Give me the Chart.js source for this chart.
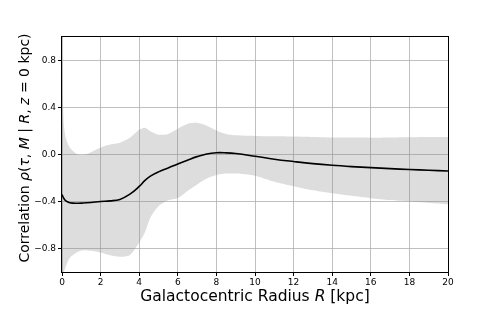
<!DOCTYPE html>
<html>
<head>
<meta charset="utf-8">
<script src="https://cdn.jsdelivr.net/npm/chart.js@4"></script>
<style>
  body { margin: 0; background: #fff; }
  canvas { display: block; }
</style>
</head>
<body>
<canvas id="chart" width="498" height="312"></canvas>
<script>
// Galactocentric radius in kpc
const radius = [0, 0.05, 0.1, 0.2, 0.4, 0.8, 1.1, 1.5, 2, 2.5, 3, 3.5, 4, 4.3, 4.6, 5, 5.5, 6, 6.5, 7, 7.5, 8, 8.5, 9, 10, 11, 12, 13, 14, 15, 16, 17, 18, 19, 20];
const meanCorr = [-0.34, -0.36, -0.375, -0.395, -0.41, -0.415, -0.413, -0.408, -0.40, -0.395, -0.382, -0.34, -0.272, -0.22, -0.182, -0.148, -0.115, -0.08, -0.048, -0.018, 0.005, 0.015, 0.014, 0.008, -0.015, -0.04, -0.06, -0.078, -0.092, -0.103, -0.112, -0.12, -0.128, -0.134, -0.14];
const upperCorr = [0.8, 0.42, 0.25, 0.14, 0.06, 0.0, -0.005, 0.02, 0.06, 0.085, 0.1, 0.14, 0.21, 0.228, 0.195, 0.168, 0.175, 0.22, 0.262, 0.27, 0.245, 0.205, 0.175, 0.163, 0.158, 0.155, 0.153, 0.149, 0.145, 0.144, 0.143, 0.145, 0.147, 0.149, 0.15];
const lowerCorr = [-1.1, -1.05, -1.0, -0.95, -0.88, -0.83, -0.815, -0.82, -0.834, -0.858, -0.87, -0.857, -0.75, -0.66, -0.53, -0.44, -0.39, -0.37, -0.31, -0.255, -0.205, -0.175, -0.162, -0.162, -0.18, -0.232, -0.27, -0.305, -0.33, -0.352, -0.372, -0.388, -0.40, -0.412, -0.423];
const xTicks = [0, 2, 4, 6, 8, 10, 12, 14, 16, 18, 20];
const yTicks = [-0.8, -0.4, 0.0, 0.4, 0.8];

const pts = ys => radius.map((r, i) => ({x: r, y: ys[i]}));
const fmt = v => v.toFixed(1).replace('-', '\u2212');

function drawMixed(ctx, parts, size) {
  // parts: [text, italic]
  let total = 0;
  parts.forEach(p => {
    ctx.font = (p[1] ? 'italic ' : '') + size + 'px "DejaVu Sans"';
    total += ctx.measureText(p[0]).width;
  });
  let x = -total / 2;
  parts.forEach(p => {
    ctx.font = (p[1] ? 'italic ' : '') + size + 'px "DejaVu Sans"';
    ctx.fillText(p[0], x, 0);
    x += ctx.measureText(p[0]).width;
  });
}

const labels = {
  id: 'labels',
  afterDraw(chart) {
    const ctx = chart.ctx;
    const a = chart.chartArea;
    ctx.save();
    ctx.fillStyle = '#000';
    ctx.textAlign = 'left';
    ctx.textBaseline = 'middle';
    ctx.translate((a.left + a.right) / 2, 297);
    drawMixed(ctx, [['Galactocentric Radius ', false], ['R', true], [' [kpc]', false]], 15.5);
    ctx.restore();

    ctx.save();
    ctx.fillStyle = '#000';
    ctx.textBaseline = 'middle';
    ctx.translate(25, 148);
    ctx.rotate(-Math.PI / 2);
    drawMixed(ctx, [['Correlation ', false], ['\u03c1', true], ['(', false], ['\u03c4', true], [', ', false],
      ['M', true], [' | ', false], ['R', true], [', ', false], ['z', true], [' = 0 kpc)', false]], 14);
    ctx.restore();
  },
  afterDatasetsDraw(chart) {
    const ctx = chart.ctx;
    const a = chart.chartArea;
    ctx.save();
    ctx.strokeStyle = '#000';
    ctx.lineWidth = 1;
    ctx.strokeRect(Math.round(a.left) - 0.5, Math.round(a.top) - 0.5, Math.round(a.right - a.left) + 1, Math.round(a.bottom - a.top) + 1);
    ctx.restore();
  }
};

const tickFont = {family: '"DejaVu Sans"', size: 9};

new Chart(document.getElementById('chart'), {
  type: 'line',
  data: {
    datasets: [
      {data: pts(meanCorr), borderColor: '#000', borderWidth: 1.6, pointRadius: 0, tension: 0.4, fill: false},
      {data: pts(upperCorr), borderWidth: 0, borderColor: 'rgba(0,0,0,0)', pointRadius: 0, tension: 0.25, fill: '+1', backgroundColor: 'rgba(128,128,128,0.27)'},
      {data: pts(lowerCorr), borderWidth: 0, borderColor: 'rgba(0,0,0,0)', pointRadius: 0, tension: 0.25, fill: false}
    ]
  },
  options: {
    responsive: false,
    animation: false,
    layout: {padding: {left: 0, top: 37, right: 50, bottom: 0}},
    plugins: {legend: {display: false}, tooltip: {enabled: false}},
    scales: {
      x: {
        type: 'linear', min: 0, max: 20,
        afterBuildTicks: s => { s.ticks = xTicks.map(v => ({value: v})); },
        afterFit: s => { s.height = 40; },
        grid: {color: '#b0b0b0', lineWidth: 0.8, tickLength: 4, tickColor: '#000', tickWidth: 1},
        border: {display: false},
        ticks: {font: tickFont, color: '#000', padding: 1, maxRotation: 0, callback: v => String(v)}
      },
      y: {
        min: -1, max: 1,
        afterBuildTicks: s => { s.ticks = yTicks.map(v => ({value: v})); },
        afterFit: s => { s.width = 62; },
        grid: {color: '#b0b0b0', lineWidth: 0.8, tickLength: 4, tickColor: '#000', tickWidth: 1},
        border: {display: false},
        ticks: {font: tickFont, color: '#000', padding: 2, callback: v => fmt(v)}
      }
    }
  },
  plugins: [labels]
});
</script>
</body>
</html>
